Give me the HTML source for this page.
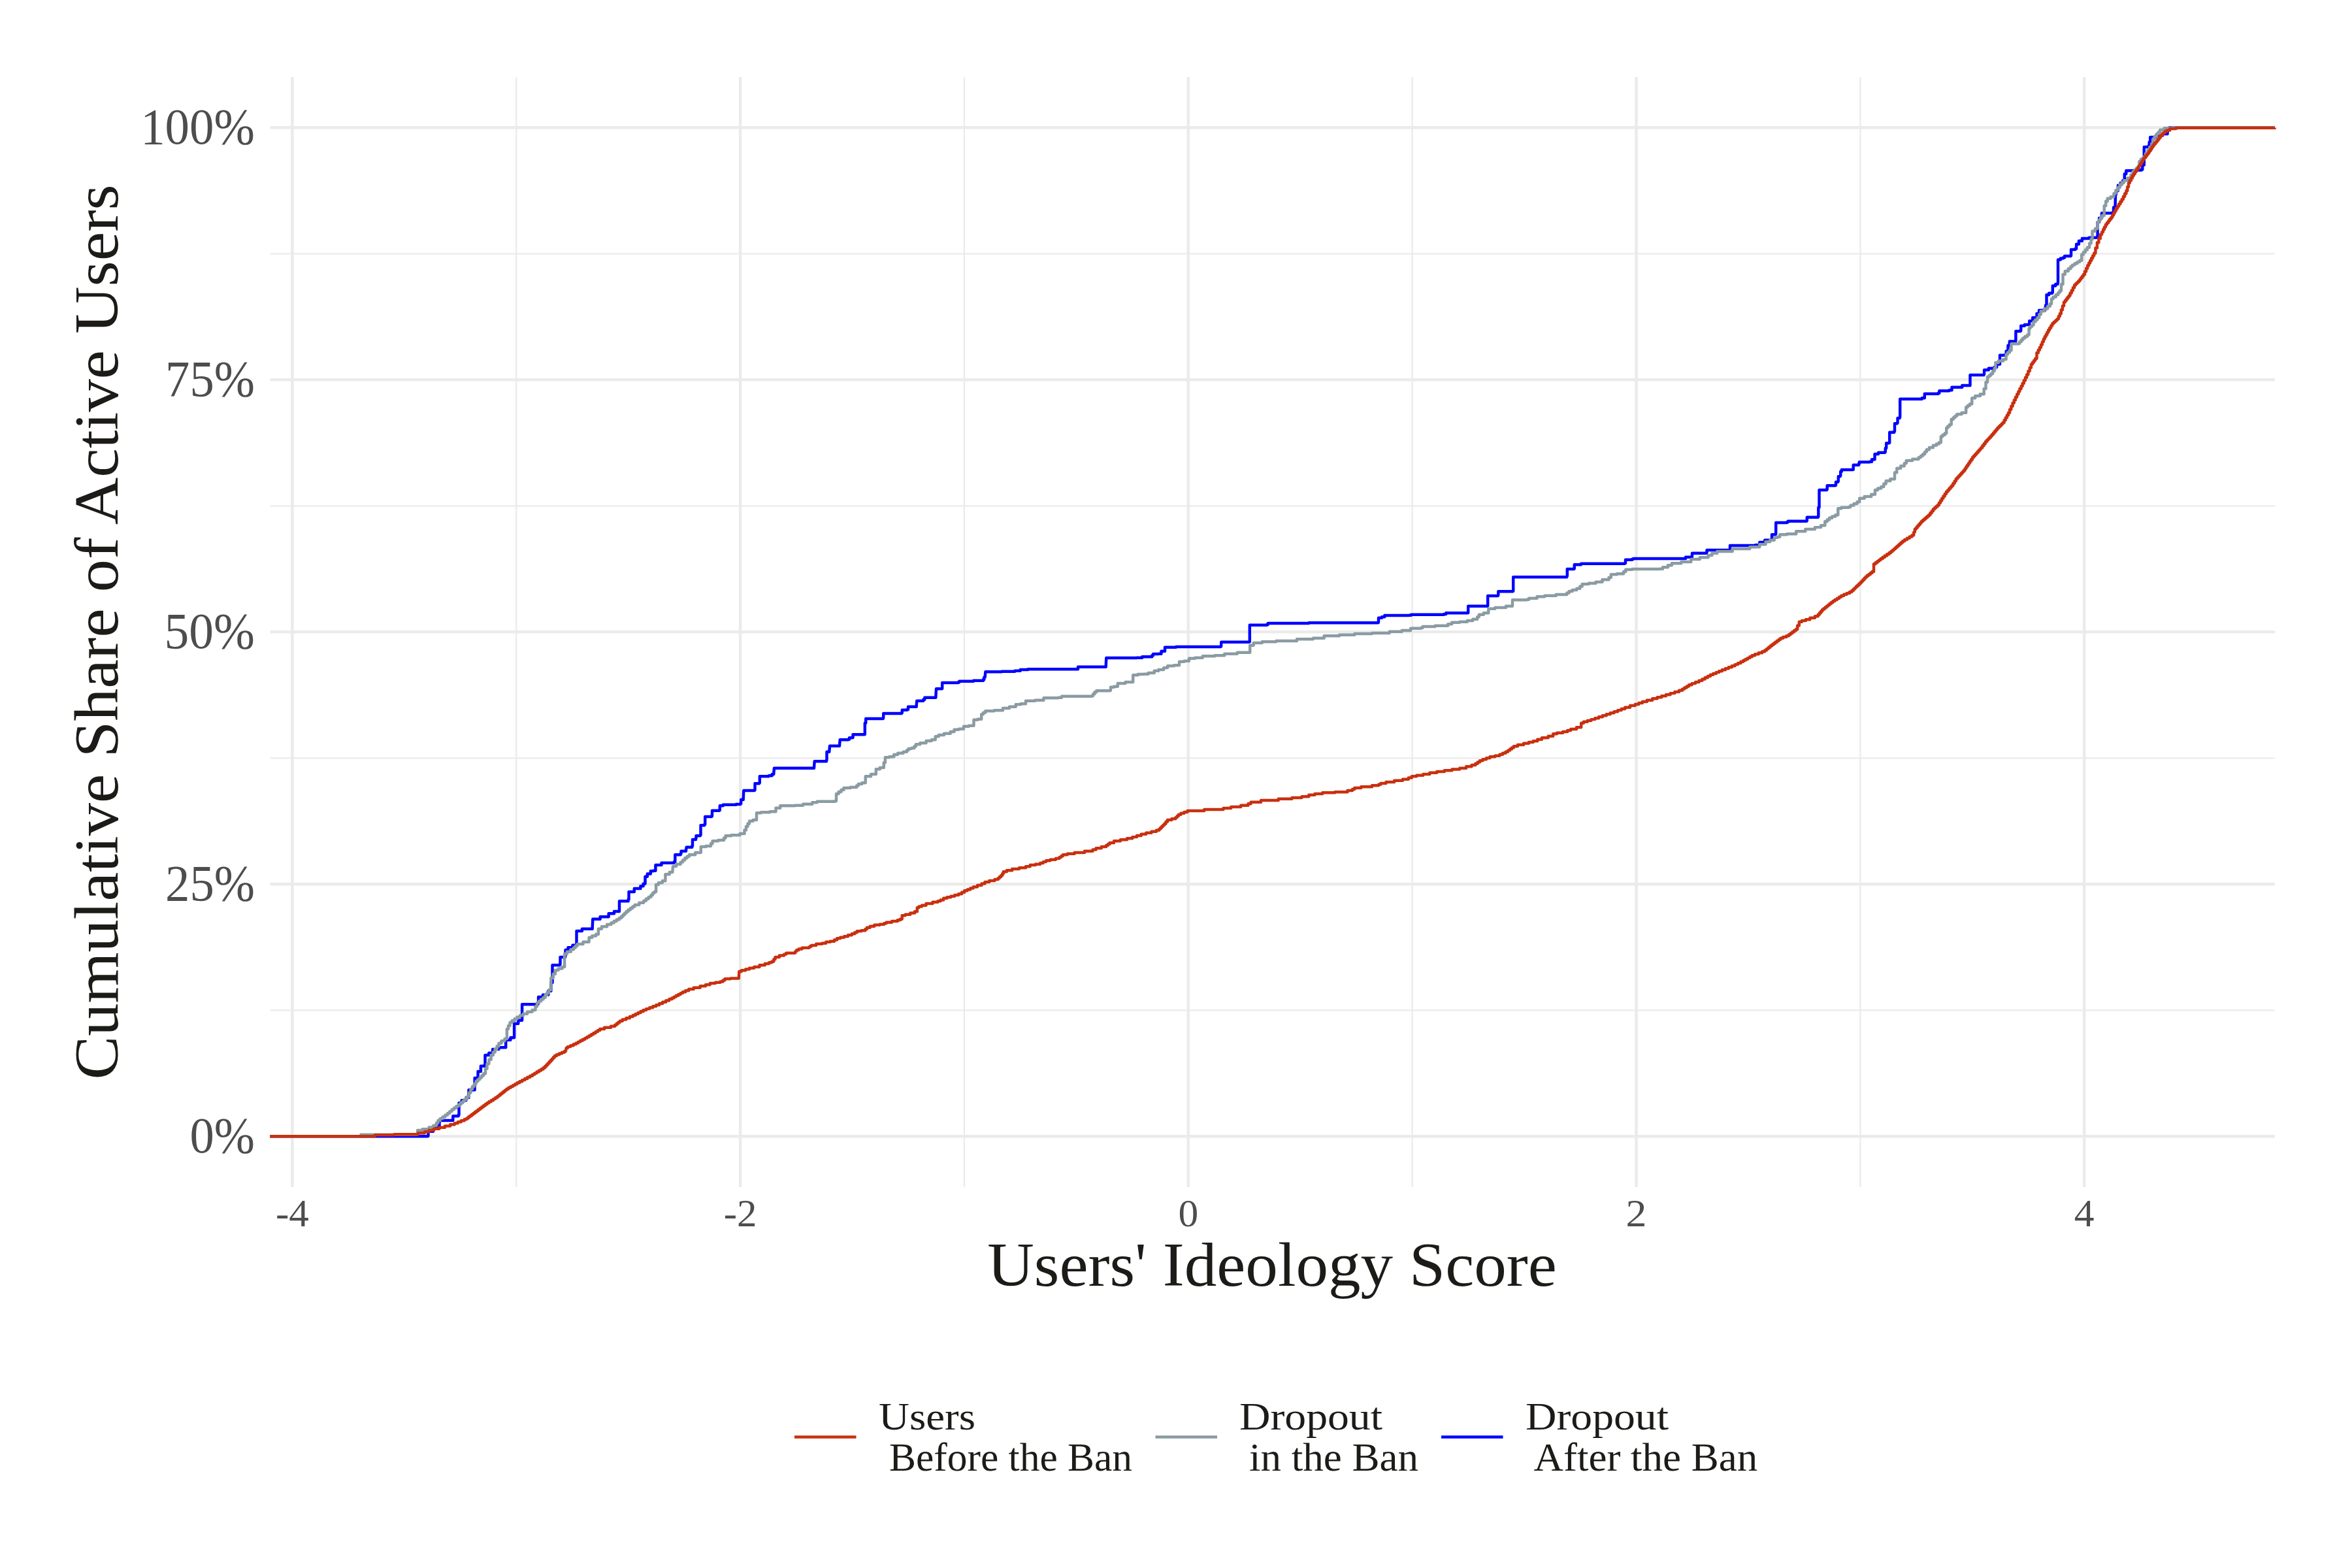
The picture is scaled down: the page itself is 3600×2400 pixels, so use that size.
<!DOCTYPE html>
<html><head><meta charset="utf-8"><title>ECDF of Users' Ideology Score</title>
<style>html,body{margin:0;padding:0;background:#fff;}svg{display:block;}text{font-family:"Liberation Serif",serif;}</style></head><body>
<svg width="3600" height="2400" viewBox="0 0 3600 2400">
<rect width="3600" height="2400" fill="#FFFFFF"/>
<g><line x1="413.5" x2="3482.0" y1="1546.30" y2="1546.30" stroke="#EBEBEB" stroke-width="2.25"/>
<line x1="413.5" x2="3482.0" y1="1160.30" y2="1160.30" stroke="#EBEBEB" stroke-width="2.25"/>
<line x1="413.5" x2="3482.0" y1="774.30" y2="774.30" stroke="#EBEBEB" stroke-width="2.25"/>
<line x1="413.5" x2="3482.0" y1="388.30" y2="388.30" stroke="#EBEBEB" stroke-width="2.25"/>
<line y1="118.0" y2="1817.0" x1="790.25" x2="790.25" stroke="#EBEBEB" stroke-width="2.25"/>
<line y1="118.0" y2="1817.0" x1="1475.95" x2="1475.95" stroke="#EBEBEB" stroke-width="2.25"/>
<line y1="118.0" y2="1817.0" x1="2161.65" x2="2161.65" stroke="#EBEBEB" stroke-width="2.25"/>
<line y1="118.0" y2="1817.0" x1="2847.35" x2="2847.35" stroke="#EBEBEB" stroke-width="2.25"/>
<line x1="413.5" x2="3482.0" y1="1739.30" y2="1739.30" stroke="#EBEBEB" stroke-width="4.45"/>
<line x1="413.5" x2="3482.0" y1="1353.30" y2="1353.30" stroke="#EBEBEB" stroke-width="4.45"/>
<line x1="413.5" x2="3482.0" y1="967.30" y2="967.30" stroke="#EBEBEB" stroke-width="4.45"/>
<line x1="413.5" x2="3482.0" y1="581.30" y2="581.30" stroke="#EBEBEB" stroke-width="4.45"/>
<line x1="413.5" x2="3482.0" y1="195.30" y2="195.30" stroke="#EBEBEB" stroke-width="4.45"/>
<line y1="118.0" y2="1817.0" x1="447.40" x2="447.40" stroke="#EBEBEB" stroke-width="4.45"/>
<line y1="118.0" y2="1817.0" x1="1133.10" x2="1133.10" stroke="#EBEBEB" stroke-width="4.45"/>
<line y1="118.0" y2="1817.0" x1="1818.80" x2="1818.80" stroke="#EBEBEB" stroke-width="4.45"/>
<line y1="118.0" y2="1817.0" x1="2504.50" x2="2504.50" stroke="#EBEBEB" stroke-width="4.45"/>
<line y1="118.0" y2="1817.0" x1="3190.20" x2="3190.20" stroke="#EBEBEB" stroke-width="4.45"/></g>
<path d="M413.3,1739.3 L555.0,1739.3 L555.0,1739.3 L555.7,1739.3 L638.3,1739.3 L638.3,1739.3 L655.0,1739.3 L655.0,1738.7 L655.5,1738.7 L655.5,1731.7 L656.0,1731.7 L663.0,1731.7 L663.0,1725.0 L670.0,1725.0 L672.5,1725.0 L672.5,1715.0 L675.0,1715.0 L693.3,1715.0 L693.3,1712.7 L693.3,1708.3 L701.7,1708.3 L701.7,1706.7 L702.5,1706.7 L702.5,1688.3 L703.3,1688.3 L706.6,1688.3 L706.6,1684.2 L713.4,1684.2 L713.4,1680.0 L716.7,1680.0 L717.5,1680.0 L717.5,1668.3 L718.3,1668.3 L725.0,1668.3 L725.0,1668.3 L726.6,1668.3 L726.6,1650.0 L728.3,1650.0 L731.6,1650.0 L731.6,1640.0 L735.0,1640.0 L735.9,1640.0 L735.9,1631.7 L736.7,1631.7 L741.7,1631.7 L741.7,1630.0 L742.5,1630.0 L742.5,1615.0 L743.3,1615.0 L748.3,1615.0 L748.3,1611.7 L753.3,1611.7 L754.1,1611.7 L754.1,1606.0 L755.0,1606.0 L763.4,1606.0 L763.4,1603.3 L771.7,1603.3 L774.2,1603.3 L774.2,1591.7 L776.7,1591.7 L781.4,1591.7 L781.4,1588.3 L786.0,1588.3 L787.1,1588.3 L787.1,1566.7 L788.3,1566.7 L793.3,1566.7 L793.3,1561.7 L798.3,1561.7 L799.1,1561.7 L799.1,1537.3 L800.0,1537.3 L823.3,1537.3 L823.3,1536.0 L824.1,1536.0 L824.1,1526.0 L825.0,1526.0 L830.9,1526.0 L830.9,1522.7 L836.7,1522.7 L839.2,1522.7 L839.2,1516.7 L841.7,1516.7 L843.4,1516.7 L843.4,1504.0 L845.0,1504.0 L845.5,1504.0 L845.5,1477.3 L846.0,1477.3 L856.7,1477.3 L856.7,1476.0 L857.5,1476.0 L857.5,1465.0 L858.3,1465.0 L865.0,1465.0 L865.0,1463.3 L865.5,1463.3 L865.5,1454.0 L866.0,1454.0 L869.5,1454.0 L869.5,1450.3 L876.5,1450.3 L876.5,1446.7 L880.0,1446.7 L882.5,1446.7 L882.5,1425.0 L885.0,1425.0 L890.9,1425.0 L890.9,1421.7 L896.7,1421.7 L906.7,1421.7 L906.7,1420.0 L907.3,1406.7 L918.6,1406.7 L918.6,1403.3 L930.0,1403.3 L931.6,1403.3 L931.6,1398.3 L933.3,1398.3 L940.0,1398.3 L940.0,1395.0 L946.7,1395.0 L948.0,1395.0 L948.0,1379.3 L949.3,1379.3 L961.7,1379.3 L961.7,1376.7 L962.5,1376.7 L962.5,1365.0 L963.3,1365.0 L970.8,1365.0 L970.8,1360.0 L978.3,1360.0 L980.4,1360.0 L980.4,1356.3 L984.6,1356.3 L984.6,1352.7 L986.7,1352.7 L987.5,1352.7 L987.5,1341.7 L988.3,1341.7 L990.8,1341.7 L990.8,1337.5 L995.8,1337.5 L995.8,1333.3 L998.3,1333.3 L1000.0,1333.3 L1000.0,1332.7 L1003.4,1332.7 L1003.4,1324.0 L1006.7,1324.0 L1012.5,1324.0 L1012.5,1320.7 L1018.3,1320.7 L1031.7,1320.7 L1031.7,1319.3 L1033.3,1319.3 L1033.3,1308.3 L1035.0,1308.3 L1041.7,1308.3 L1041.7,1306.7 L1042.5,1306.7 L1042.5,1302.7 L1043.3,1302.7 L1050.0,1302.7 L1050.0,1301.7 L1050.7,1296.7 L1059.3,1296.7 L1059.3,1295.0 L1060.0,1295.0 L1060.0,1285.0 L1060.7,1285.0 L1065.0,1285.0 L1065.0,1283.3 L1065.5,1283.3 L1065.5,1279.3 L1066.0,1279.3 L1071.7,1279.3 L1071.7,1278.3 L1072.5,1278.3 L1072.5,1263.3 L1073.3,1263.3 L1078.3,1263.3 L1078.3,1261.7 L1079.2,1261.7 L1079.2,1250.0 L1080.0,1250.0 L1089.3,1250.0 L1089.3,1249.0 L1090.0,1249.0 L1090.0,1240.7 L1090.7,1240.7 L1101.0,1240.7 L1101.0,1240.0 L1101.8,1240.0 L1101.8,1233.3 L1102.7,1233.3 L1106.7,1233.3 L1106.7,1231.7 L1126.7,1231.7 L1126.7,1231.0 L1133.3,1231.0 L1133.3,1230.0 L1134.2,1230.0 L1134.2,1224.0 L1135.0,1224.0 L1137.7,1224.0 L1137.7,1223.3 L1138.3,1210.0 L1155.0,1210.0 L1155.0,1209.3 L1155.5,1209.3 L1155.5,1199.3 L1156.0,1199.3 L1162.3,1199.3 L1162.3,1198.3 L1162.8,1198.3 L1162.8,1188.3 L1163.3,1188.3 L1176.7,1188.3 L1176.7,1187.3 L1181.7,1187.3 L1181.7,1185.0 L1184.3,1185.0 L1184.3,1183.3 L1185.0,1175.7 L1246.0,1175.7 L1246.0,1175.3 L1246.7,1165.3 L1265.0,1165.3 L1265.0,1163.3 L1265.5,1163.3 L1265.5,1150.7 L1266.0,1150.7 L1269.3,1150.7 L1269.3,1150.0 L1270.0,1141.7 L1285.0,1141.7 L1285.0,1140.7 L1285.7,1132.3 L1298.3,1132.3 L1298.3,1131.7 L1300.0,1131.7 L1300.0,1129.3 L1305.0,1129.3 L1305.0,1129.0 L1305.5,1129.0 L1305.5,1124.3 L1306.0,1124.3 L1323.3,1124.3 L1323.3,1124.0 L1323.8,1124.0 L1323.8,1106.7 L1324.3,1106.7 L1325.2,1106.7 L1325.2,1100.0 L1326.0,1100.0 L1351.7,1100.0 L1351.7,1099.0 L1352.2,1099.0 L1352.2,1092.0 L1352.7,1092.0 L1380.0,1092.0 L1380.0,1091.0 L1380.8,1091.0 L1380.8,1086.7 L1381.7,1086.7 L1388.3,1086.7 L1388.3,1086.0 L1390.0,1086.0 L1390.0,1081.7 L1391.7,1081.7 L1402.7,1081.7 L1402.7,1080.0 L1403.3,1072.7 L1413.3,1072.7 L1413.3,1070.7 L1415.3,1070.7 L1415.3,1067.7 L1417.3,1067.7 L1432.3,1067.7 L1432.3,1067.3 L1433.0,1054.3 L1441.7,1054.3 L1441.7,1054.0 L1442.2,1054.0 L1442.2,1045.0 L1442.7,1045.0 L1466.7,1045.0 L1466.7,1044.3 L1468.3,1044.3 L1468.3,1042.7 L1490.0,1042.7 L1490.0,1041.7 L1505.0,1041.7 L1505.0,1040.0 L1506.3,1040.0 L1506.3,1036.7 L1507.7,1036.7 L1508.3,1028.3 L1533.3,1028.3 L1533.3,1027.7 L1553.3,1027.7 L1553.3,1026.7 L1561.7,1026.7 L1561.7,1025.0 L1573.3,1025.0 L1573.3,1024.3 L1645.0,1024.3 L1645.0,1024.3 L1650.0,1024.3 L1650.0,1020.7 L1655.0,1020.7 L1692.7,1020.7 L1692.7,1020.3 L1693.3,1007.0 L1740.0,1007.0 L1740.0,1006.7 L1748.3,1006.7 L1748.3,1005.3 L1750.0,1005.3 L1750.0,1005.3 L1763.3,1005.3 L1763.3,1003.3 L1765.0,1003.3 L1765.0,1001.0 L1773.3,1001.0 L1773.3,1000.7 L1777.5,1000.7 L1777.5,996.7 L1781.7,996.7 L1783.0,996.7 L1783.0,990.7 L1784.3,990.7 L1800.0,990.7 L1800.0,990.0 L1868.3,990.0 L1868.3,989.3 L1869.2,989.3 L1869.2,982.7 L1870.0,982.7 L1912.3,982.7 L1912.3,982.3 L1912.8,982.3 L1912.8,956.7 L1913.3,956.7 L1939.3,956.7 L1939.3,956.0 L1940.7,956.0 L1940.7,954.0 L2003.3,954.0 L2003.3,953.3 L2109.3,953.3 L2109.3,952.7 L2110.0,952.7 L2110.0,945.7 L2110.7,945.7 L2115.0,945.7 L2115.0,944.3 L2119.3,944.3 L2119.3,942.0 L2156.7,942.0 L2156.7,941.7 L2160.0,941.7 L2160.0,940.7 L2210.0,940.7 L2210.0,940.0 L2213.3,940.0 L2213.3,938.3 L2246.7,938.3 L2246.7,938.0 L2247.2,938.0 L2247.2,927.7 L2247.7,927.7 L2276.7,927.7 L2276.7,927.3 L2277.2,927.3 L2277.2,912.0 L2277.7,912.0 L2292.7,912.0 L2292.7,911.3 L2293.3,911.3 L2293.3,905.3 L2294.0,905.3 L2315.7,905.3 L2315.7,904.7 L2316.2,904.7 L2316.2,883.3 L2316.7,883.3 L2398.3,883.3 L2398.3,881.7 L2398.8,881.7 L2398.8,871.0 L2399.3,871.0 L2409.3,871.0 L2409.3,870.3 L2409.8,870.3 L2409.8,864.3 L2410.3,864.3 L2420.0,864.3 L2420.0,862.7 L2486.7,862.7 L2486.7,862.0 L2488.0,862.0 L2488.0,856.7 L2489.3,856.7 L2498.3,856.7 L2498.3,855.7 L2500.0,855.7 L2500.0,855.0 L2578.3,855.0 L2578.3,855.0 L2580.0,855.0 L2580.0,852.7 L2589.3,852.7 L2589.3,852.0 L2590.0,852.0 L2590.0,846.7 L2590.7,846.7 L2611.7,846.7 L2611.7,846.0 L2612.5,846.0 L2612.5,842.0 L2613.3,842.0 L2647.3,842.0 L2647.3,841.3 L2648.0,841.3 L2648.0,835.0 L2648.7,835.0 L2686.7,835.0 L2686.7,834.3 L2693.3,834.3 L2693.3,830.0 L2700.0,830.0 L2701.3,830.0 L2701.3,826.7 L2702.7,826.7 L2710.7,826.7 L2710.7,826.0 L2712.0,826.0 L2712.0,818.3 L2713.3,818.3 L2717.7,818.3 L2717.7,817.3 L2718.2,817.3 L2718.2,800.0 L2718.7,800.0 L2735.0,800.0 L2735.0,799.3 L2736.7,799.3 L2736.7,797.7 L2765.0,797.7 L2765.0,797.3 L2765.8,797.3 L2765.8,791.7 L2766.7,791.7 L2782.7,791.7 L2782.7,791.0 L2783.3,791.0 L2783.3,776.7 L2784.0,776.7 L2784.5,776.7 L2784.5,750.0 L2785.0,750.0 L2796.0,750.0 L2796.0,749.0 L2796.7,749.0 L2796.7,743.3 L2797.3,743.3 L2809.3,743.3 L2809.3,742.7 L2810.0,742.7 L2810.0,737.7 L2810.7,737.7 L2813.3,737.7 L2813.3,736.7 L2813.8,736.7 L2813.8,729.3 L2814.3,729.3 L2816.7,729.3 L2816.7,728.3 L2817.2,728.3 L2817.2,721.7 L2817.7,721.7 L2818.8,721.7 L2818.8,719.0 L2820.0,719.0 L2836.0,719.0 L2836.0,718.7 L2836.7,718.7 L2836.7,711.7 L2837.3,711.7 L2845.0,711.7 L2845.0,710.0 L2845.8,710.0 L2845.8,707.3 L2846.7,707.3 L2861.7,707.3 L2861.7,706.7 L2865.0,706.7 L2865.0,703.3 L2868.3,703.3 L2869.5,703.3 L2869.5,695.0 L2870.7,695.0 L2875.0,695.0 L2875.0,692.7 L2885.0,692.7 L2885.0,691.7 L2885.8,691.7 L2885.8,686.0 L2886.7,686.0 L2887.2,686.0 L2887.2,678.3 L2887.7,678.3 L2891.7,678.3 L2891.7,677.7 L2892.2,677.7 L2892.2,661.7 L2892.7,661.7 L2899.3,661.7 L2899.3,660.0 L2900.0,660.0 L2900.0,648.3 L2900.7,648.3 L2904.0,648.3 L2904.0,647.3 L2904.5,647.3 L2904.5,640.0 L2905.0,640.0 L2907.7,640.0 L2907.7,638.3 L2908.2,638.3 L2908.2,610.7 L2908.7,610.7 L2941.7,610.7 L2941.7,609.3 L2945.8,609.3 L2945.8,602.7 L2950.0,602.7 L2966.7,602.7 L2966.7,601.7 L2968.3,601.7 L2968.3,598.3 L2970.0,598.3 L2983.3,598.3 L2983.3,597.3 L2987.5,597.3 L2987.5,592.7 L2991.7,592.7 L3003.3,592.7 L3003.3,590.0 L3015.0,590.0 L3015.5,590.0 L3015.5,574.0 L3016.0,574.0 L3036.7,574.0 L3036.7,572.7 L3037.1,572.7 L3037.1,566.2 L3037.5,566.2 L3043.8,566.2 L3043.8,563.8 L3052.5,563.8 L3052.5,562.0 L3056.2,562.0 L3056.2,557.5 L3060.0,557.5 L3061.0,557.5 L3061.0,543.8 L3062.0,543.8 L3068.8,543.8 L3068.8,543.0 L3070.7,543.0 L3070.7,537.5 L3072.5,537.5 L3073.5,537.5 L3073.5,528.8 L3074.5,528.8 L3075.8,528.8 L3075.8,522.5 L3077.0,522.5 L3085.0,522.5 L3085.0,522.0 L3085.4,522.0 L3085.4,507.0 L3085.8,507.0 L3092.5,507.0 L3092.5,506.2 L3093.2,506.2 L3093.2,498.8 L3093.8,498.8 L3098.8,498.8 L3098.8,497.0 L3105.0,497.0 L3105.0,496.2 L3106.2,496.2 L3106.2,491.2 L3107.5,491.2 L3111.2,491.2 L3111.2,486.2 L3115.0,486.2 L3117.5,486.2 L3117.5,480.0 L3120.0,480.0 L3121.0,480.0 L3121.0,475.0 L3122.0,475.0 L3130.0,475.0 L3130.0,472.5 L3131.0,472.5 L3131.0,467.5 L3132.0,467.5 L3132.5,467.5 L3132.5,451.2 L3133.0,451.2 L3136.2,451.2 L3136.2,448.8 L3141.2,448.8 L3141.2,447.5 L3141.8,447.5 L3141.8,437.5 L3142.5,437.5 L3146.2,437.5 L3146.2,435.0 L3149.5,435.0 L3149.5,433.0 L3150.0,433.0 L3150.0,397.5 L3150.5,397.5 L3153.8,397.5 L3153.8,395.5 L3157.5,395.5 L3157.5,394.5 L3160.0,394.5 L3160.0,392.0 L3169.5,392.0 L3169.5,391.5 L3170.0,391.5 L3170.0,382.0 L3170.5,382.0 L3176.2,382.0 L3176.2,380.8 L3178.1,380.8 L3178.1,373.8 L3180.0,373.8 L3181.9,373.8 L3181.9,368.8 L3183.8,368.8 L3186.9,368.8 L3186.9,365.0 L3190.0,365.0 L3197.5,365.0 L3197.5,363.8 L3210.0,363.8 L3210.0,362.0 L3210.6,362.0 L3210.6,340.0 L3211.2,340.0 L3213.1,340.0 L3213.1,333.8 L3215.0,333.8 L3216.9,333.8 L3216.9,326.2 L3218.8,326.2 L3232.5,326.2 L3232.5,325.8 L3235.0,325.8 L3235.0,317.5 L3237.5,317.5 L3238.0,297.5 L3239.0,297.5 L3239.0,292.0 L3240.0,292.0 L3241.9,292.0 L3241.9,283.8 L3243.8,283.8 L3245.7,283.8 L3245.7,280.0 L3249.3,280.0 L3249.3,276.2 L3251.2,276.2 L3251.8,276.2 L3251.8,266.2 L3252.5,266.2 L3254.3,266.2 L3254.3,261.2 L3256.2,261.2 L3267.5,261.2 L3267.5,260.5 L3277.5,260.5 L3277.5,259.5 L3279.3,259.5 L3279.3,252.5 L3281.2,252.5 L3281.8,252.5 L3281.8,225.0 L3282.5,225.0 L3288.8,225.0 L3288.8,223.0 L3289.7,223.0 L3289.7,217.5 L3290.5,217.5 L3291.2,217.5 L3291.2,210.0 L3292.0,210.0 L3300.0,210.0 L3300.0,207.5 L3310.0,207.5 L3310.0,205.0 L3317.5,205.0 L3317.5,204.2 L3318.0,197.5 L3320.0,197.5 L3320.0,195.5 L3482.0,195.5 L3482.0,195.5" fill="none" stroke="#0000FF" stroke-width="4.45" stroke-linejoin="round" stroke-linecap="butt"/>
<path d="M413.3,1739.3 L551.7,1739.3 L551.7,1739.3 L552.3,1736.7 L638.3,1736.7 L638.3,1736.0 L639.1,1736.0 L639.1,1730.0 L640.0,1730.0 L646.6,1730.0 L646.6,1728.3 L653.3,1728.3 L656.6,1728.3 L656.6,1725.5 L663.4,1725.5 L663.4,1722.7 L666.7,1722.7 L668.0,1722.7 L668.0,1718.8 L670.5,1718.8 L670.5,1715.0 L671.7,1715.0 L673.6,1715.0 L673.6,1712.2 L677.5,1712.2 L677.5,1709.5 L681.4,1709.5 L681.4,1706.7 L683.3,1706.7 L685.0,1706.7 L685.0,1703.9 L688.3,1703.9 L688.3,1701.1 L691.6,1701.1 L691.6,1698.3 L693.3,1698.3 L695.0,1698.3 L695.0,1695.8 L698.3,1695.8 L698.3,1693.3 L701.7,1693.3 L701.7,1690.8 L705.0,1690.8 L705.0,1688.3 L706.7,1688.3 L708.0,1688.3 L708.0,1685.8 L710.5,1685.8 L710.5,1683.3 L713.0,1683.3 L713.0,1680.8 L715.5,1680.8 L715.5,1678.3 L716.7,1678.3 L718.0,1678.3 L718.0,1672.5 L720.5,1672.5 L720.5,1666.7 L721.7,1666.7 L723.1,1666.7 L723.1,1662.8 L725.9,1662.8 L725.9,1658.9 L728.6,1658.9 L728.6,1655.0 L730.0,1655.0 L731.5,1655.0 L731.5,1652.1 L734.4,1652.1 L734.4,1649.2 L737.3,1649.2 L737.3,1646.2 L740.2,1646.2 L740.2,1643.3 L741.7,1643.3 L743.0,1643.3 L743.0,1635.8 L745.5,1635.8 L745.5,1628.3 L746.7,1628.3 L748.4,1628.3 L748.4,1621.7 L751.6,1621.7 L751.6,1615.0 L753.3,1615.0 L754.8,1615.0 L754.8,1610.4 L757.7,1610.4 L757.7,1605.8 L760.6,1605.8 L760.6,1601.3 L763.5,1601.3 L763.5,1596.7 L765.0,1596.7 L767.5,1596.7 L767.5,1593.3 L772.5,1593.3 L772.5,1590.0 L775.0,1590.0 L775.9,1590.0 L775.9,1575.0 L776.7,1575.0 L778.0,1575.0 L778.0,1570.0 L780.5,1570.0 L780.5,1565.0 L781.7,1565.0 L783.6,1565.0 L783.6,1562.2 L787.5,1562.2 L787.5,1559.5 L791.4,1559.5 L791.4,1556.7 L793.3,1556.7 L795.8,1556.7 L795.8,1554.2 L800.8,1554.2 L800.8,1551.7 L803.3,1551.7 L807.0,1551.7 L807.0,1548.8 L814.5,1548.8 L814.5,1546.0 L818.3,1546.0 L819.5,1546.0 L819.5,1540.5 L822.0,1540.5 L822.0,1535.0 L823.3,1535.0 L825.0,1535.0 L825.0,1532.2 L828.3,1532.2 L828.3,1529.5 L831.6,1529.5 L831.6,1526.7 L833.3,1526.7 L834.7,1526.7 L834.7,1522.8 L837.5,1522.8 L837.5,1518.9 L840.3,1518.9 L840.3,1515.0 L841.7,1515.0 L843.4,1515.0 L843.4,1496.7 L845.0,1496.7 L846.7,1496.7 L846.7,1490.8 L850.0,1490.8 L850.0,1485.0 L851.7,1485.0 L854.6,1485.0 L854.6,1482.5 L860.4,1482.5 L860.4,1480.0 L863.3,1480.0 L864.1,1480.0 L864.1,1460.0 L865.0,1460.0 L867.9,1460.0 L867.9,1456.7 L873.8,1456.7 L873.8,1453.3 L876.7,1453.3 L878.1,1453.3 L878.1,1450.5 L880.9,1450.5 L880.9,1447.8 L883.6,1447.8 L883.6,1445.0 L885.0,1445.0 L892.5,1445.0 L892.5,1441.7 L900.0,1441.7 L901.6,1441.7 L901.6,1435.0 L903.3,1435.0 L906.2,1435.0 L906.2,1432.5 L912.1,1432.5 L912.1,1430.0 L915.0,1430.0 L915.9,1430.0 L915.9,1421.7 L916.7,1421.7 L920.9,1421.7 L920.9,1418.3 L929.1,1418.3 L929.1,1415.0 L933.3,1415.0 L935.4,1415.0 L935.4,1412.5 L939.6,1412.5 L939.6,1410.0 L943.7,1410.0 L943.7,1407.5 L947.9,1407.5 L947.9,1405.0 L950.0,1405.0 L951.2,1405.0 L951.2,1402.5 L953.8,1402.5 L953.8,1400.0 L956.2,1400.0 L956.2,1397.5 L958.8,1397.5 L958.8,1395.0 L960.0,1395.0 L961.7,1395.0 L961.7,1392.5 L965.0,1392.5 L965.0,1390.0 L968.3,1390.0 L968.3,1387.5 L971.6,1387.5 L971.6,1385.0 L973.3,1385.0 L978.3,1385.0 L978.3,1381.7 L983.3,1381.7 L985.2,1381.7 L985.2,1378.8 L988.9,1378.8 L988.9,1375.8 L992.7,1375.8 L992.7,1372.9 L996.4,1372.9 L996.4,1370.0 L998.3,1370.0 L999.1,1370.0 L999.1,1366.7 L1000.0,1366.7 L1001.6,1366.7 L1001.6,1365.0 L1003.3,1365.0 L1004.1,1365.0 L1004.1,1354.0 L1005.0,1354.0 L1007.9,1354.0 L1007.9,1351.2 L1013.8,1351.2 L1013.8,1348.3 L1016.7,1348.3 L1018.4,1348.3 L1018.4,1338.3 L1020.0,1338.3 L1024.7,1338.3 L1024.7,1335.0 L1029.3,1335.0 L1030.0,1326.0 L1035.0,1326.0 L1035.0,1322.7 L1040.0,1322.7 L1041.7,1322.7 L1041.7,1319.6 L1045.0,1319.6 L1045.0,1316.4 L1048.3,1316.4 L1048.3,1313.3 L1050.0,1313.3 L1051.7,1313.3 L1051.7,1310.8 L1055.0,1310.8 L1055.0,1308.3 L1056.7,1308.3 L1064.2,1308.3 L1064.2,1305.0 L1071.7,1305.0 L1072.8,1305.0 L1072.8,1296.0 L1074.0,1296.0 L1080.3,1296.0 L1080.3,1295.0 L1086.7,1295.0 L1088.0,1295.0 L1088.0,1291.2 L1090.5,1291.2 L1090.5,1287.3 L1091.7,1287.3 L1099.2,1287.3 L1099.2,1286.0 L1106.7,1286.0 L1108.0,1286.0 L1108.0,1282.7 L1110.5,1282.7 L1110.5,1279.3 L1111.7,1279.3 L1119.2,1279.3 L1119.2,1278.3 L1126.7,1278.3 L1132.5,1278.3 L1132.5,1276.0 L1138.3,1276.0 L1139.5,1276.0 L1139.5,1270.5 L1142.0,1270.5 L1142.0,1265.0 L1143.3,1265.0 L1144.5,1265.0 L1144.5,1260.8 L1147.0,1260.8 L1147.0,1256.7 L1148.3,1256.7 L1152.5,1256.7 L1152.5,1255.0 L1156.7,1255.0 L1158.0,1255.0 L1158.0,1244.3 L1159.3,1244.3 L1164.7,1244.3 L1164.7,1243.3 L1170.0,1243.3 L1178.3,1243.3 L1178.3,1242.3 L1186.7,1242.3 L1187.5,1242.3 L1187.5,1236.7 L1188.3,1236.7 L1194.2,1236.7 L1194.2,1233.3 L1200.0,1233.3 L1216.7,1233.3 L1216.7,1232.7 L1229.2,1232.7 L1229.2,1230.7 L1241.7,1230.7 L1243.3,1230.7 L1243.3,1228.3 L1245.0,1228.3 L1250.8,1228.3 L1250.8,1226.7 L1256.7,1226.7 L1278.3,1226.7 L1278.3,1226.0 L1280.0,1226.0 L1280.0,1215.0 L1281.7,1215.0 L1283.6,1215.0 L1283.6,1212.0 L1287.5,1212.0 L1287.5,1209.0 L1291.4,1209.0 L1291.4,1206.0 L1293.3,1206.0 L1301.7,1206.0 L1301.7,1205.0 L1310.0,1205.0 L1311.2,1205.0 L1311.2,1202.5 L1313.8,1202.5 L1313.8,1200.0 L1315.0,1200.0 L1319.2,1200.0 L1319.2,1198.3 L1323.3,1198.3 L1324.7,1198.3 L1324.7,1188.3 L1326.0,1188.3 L1333.0,1188.3 L1333.0,1185.0 L1340.0,1185.0 L1340.8,1185.0 L1340.8,1177.3 L1341.7,1177.3 L1346.7,1177.3 L1346.7,1175.0 L1351.7,1175.0 L1352.8,1175.0 L1352.8,1167.2 L1354.9,1167.2 L1354.9,1159.3 L1356.0,1159.3 L1361.3,1159.3 L1361.3,1158.3 L1366.7,1158.3 L1368.3,1158.3 L1368.3,1155.0 L1370.0,1155.0 L1374.2,1155.0 L1374.2,1152.8 L1382.5,1152.8 L1382.5,1150.7 L1386.7,1150.7 L1388.0,1150.7 L1388.0,1148.3 L1390.5,1148.3 L1390.5,1146.0 L1391.7,1146.0 L1395.0,1146.0 L1395.0,1145.0 L1398.3,1145.0 L1399.5,1145.0 L1399.5,1142.2 L1402.0,1142.2 L1402.0,1139.3 L1403.3,1139.3 L1408.3,1139.3 L1408.3,1137.3 L1413.3,1137.3 L1417.5,1137.3 L1417.5,1134.0 L1421.7,1134.0 L1425.8,1134.0 L1425.8,1132.3 L1430.0,1132.3 L1431.7,1132.3 L1431.7,1127.3 L1433.3,1127.3 L1436.7,1127.3 L1436.7,1125.0 L1440.0,1125.0 L1445.0,1125.0 L1445.0,1122.7 L1450.0,1122.7 L1454.7,1122.7 L1454.7,1120.0 L1459.3,1120.0 L1460.5,1120.0 L1460.5,1116.7 L1461.7,1116.7 L1467.5,1116.7 L1467.5,1115.7 L1473.3,1115.7 L1475.0,1115.7 L1475.0,1111.7 L1476.7,1111.7 L1483.0,1111.7 L1483.0,1110.7 L1489.3,1110.7 L1490.5,1110.7 L1490.5,1101.7 L1491.7,1101.7 L1496.3,1101.7 L1496.3,1100.7 L1501.0,1100.7 L1502.2,1100.7 L1502.2,1093.3 L1503.3,1093.3 L1505.0,1093.3 L1505.0,1090.8 L1508.3,1090.8 L1508.3,1088.3 L1510.0,1088.3 L1521.7,1088.3 L1521.7,1087.3 L1533.3,1087.3 L1535.0,1087.3 L1535.0,1084.0 L1536.7,1084.0 L1545.0,1084.0 L1545.0,1081.7 L1553.3,1081.7 L1554.7,1081.7 L1554.7,1078.3 L1556.0,1078.3 L1562.2,1078.3 L1562.2,1077.3 L1568.3,1077.3 L1570.0,1077.3 L1570.0,1072.7 L1571.7,1072.7 L1584.2,1072.7 L1584.2,1071.7 L1596.7,1071.7 L1597.5,1071.7 L1597.5,1068.3 L1598.3,1068.3 L1620.0,1068.3 L1620.0,1067.7 L1625.0,1067.7 L1625.0,1065.7 L1630.0,1065.7 L1671.7,1065.7 L1671.7,1065.0 L1673.0,1065.0 L1673.0,1062.2 L1675.5,1062.2 L1675.5,1059.3 L1676.7,1059.3 L1678.3,1059.3 L1678.3,1057.3 L1680.0,1057.3 L1699.3,1057.3 L1699.3,1056.7 L1700.0,1056.7 L1700.0,1051.7 L1700.7,1051.7 L1705.3,1051.7 L1705.3,1050.7 L1710.0,1050.7 L1710.8,1050.7 L1710.8,1046.0 L1711.7,1046.0 L1722.5,1046.0 L1722.5,1044.0 L1733.3,1044.0 L1734.2,1044.0 L1734.2,1033.3 L1735.0,1033.3 L1741.7,1033.3 L1741.7,1032.0 L1748.3,1032.0 L1750.0,1032.0 L1750.0,1031.7 L1757.5,1031.7 L1757.5,1030.0 L1765.0,1030.0 L1766.7,1030.0 L1766.7,1026.7 L1768.3,1026.7 L1773.3,1026.7 L1773.3,1025.0 L1778.3,1025.0 L1781.2,1025.0 L1781.2,1022.1 L1787.1,1022.1 L1787.1,1019.3 L1790.0,1019.3 L1796.7,1019.3 L1796.7,1018.3 L1803.3,1018.3 L1805.0,1018.3 L1805.0,1012.7 L1806.7,1012.7 L1812.5,1012.7 L1812.5,1011.7 L1818.3,1011.7 L1820.0,1011.7 L1820.0,1007.7 L1821.7,1007.7 L1829.2,1007.7 L1829.2,1006.7 L1836.7,1006.7 L1840.8,1006.7 L1840.8,1004.3 L1845.0,1004.3 L1859.2,1004.3 L1859.2,1003.3 L1873.3,1003.3 L1874.2,1003.3 L1874.2,1000.7 L1875.0,1000.7 L1893.7,1000.7 L1893.7,998.7 L1912.3,998.7 L1913.2,998.7 L1913.2,987.7 L1914.0,987.7 L1918.7,987.7 L1918.7,984.0 L1923.3,984.0 L1931.7,984.0 L1931.7,982.3 L1940.0,982.3 L1953.3,982.3 L1953.3,981.0 L1966.7,981.0 L1985.0,981.0 L1985.0,978.3 L2003.3,978.3 L2010.0,978.3 L2010.0,976.7 L2016.7,976.7 L2026.7,976.7 L2026.7,973.3 L2036.7,973.3 L2050.0,973.3 L2050.0,971.7 L2063.3,971.7 L2073.3,971.7 L2073.3,970.0 L2083.3,970.0 L2100.0,970.0 L2100.0,969.0 L2116.7,969.0 L2126.7,969.0 L2126.7,966.7 L2136.7,966.7 L2145.8,966.7 L2145.8,965.0 L2155.0,965.0 L2159.2,965.0 L2159.2,961.7 L2163.3,961.7 L2175.0,961.7 L2175.0,961.0 L2177.5,961.0 L2177.5,959.0 L2180.0,959.0 L2196.7,959.0 L2196.7,957.7 L2213.3,957.7 L2216.2,957.7 L2216.2,955.2 L2222.1,955.2 L2222.1,952.7 L2225.0,952.7 L2234.2,952.7 L2234.2,951.7 L2243.3,951.7 L2245.8,951.7 L2245.8,950.0 L2248.3,950.0 L2254.2,950.0 L2254.2,947.7 L2260.0,947.7 L2261.2,947.7 L2261.2,944.2 L2263.8,944.2 L2263.8,940.7 L2265.0,940.7 L2270.8,940.7 L2270.8,938.3 L2276.7,938.3 L2278.3,938.3 L2278.3,931.7 L2280.0,931.7 L2288.3,931.7 L2288.3,930.0 L2296.7,930.0 L2305.0,930.0 L2305.0,927.7 L2313.3,927.7 L2315.0,927.7 L2315.0,918.3 L2316.7,918.3 L2336.7,918.3 L2336.7,917.7 L2340.0,917.7 L2340.0,915.7 L2343.3,915.7 L2352.5,915.7 L2352.5,913.3 L2361.7,913.3 L2364.2,913.3 L2364.2,911.7 L2366.7,911.7 L2381.7,911.7 L2381.7,910.0 L2396.7,910.0 L2398.3,910.0 L2398.3,907.5 L2401.7,907.5 L2401.7,905.0 L2403.3,905.0 L2406.7,905.0 L2406.7,902.9 L2413.3,902.9 L2413.3,900.7 L2416.7,900.7 L2418.3,900.7 L2418.3,897.4 L2421.7,897.4 L2421.7,894.0 L2423.3,894.0 L2431.7,894.0 L2431.7,892.7 L2440.0,892.7 L2442.5,892.7 L2442.5,890.7 L2445.0,890.7 L2452.5,890.7 L2452.5,887.3 L2460.0,887.3 L2462.5,887.3 L2462.5,884.0 L2465.0,884.0 L2465.8,884.0 L2465.8,879.3 L2466.7,879.3 L2475.0,879.3 L2475.0,878.3 L2483.3,878.3 L2485.0,878.3 L2485.0,875.0 L2488.3,875.0 L2488.3,871.7 L2490.0,871.7 L2498.3,871.7 L2498.3,871.0 L2500.0,871.0 L2500.0,871.0 L2540.0,871.0 L2540.0,870.7 L2545.0,870.7 L2545.0,868.3 L2550.0,868.3 L2552.9,868.3 L2552.9,865.3 L2558.8,865.3 L2558.8,862.3 L2561.7,862.3 L2573.3,862.3 L2573.3,860.0 L2585.0,860.0 L2588.3,860.0 L2588.3,856.0 L2591.7,856.0 L2601.7,856.0 L2601.7,853.3 L2611.7,853.3 L2614.6,853.3 L2614.6,850.0 L2620.4,850.0 L2620.4,846.7 L2623.3,846.7 L2628.3,846.7 L2628.3,844.0 L2633.3,844.0 L2651.7,844.0 L2651.7,840.0 L2670.0,840.0 L2678.3,840.0 L2678.3,837.3 L2686.7,837.3 L2693.3,837.3 L2693.3,833.3 L2700.0,833.3 L2702.5,833.3 L2702.5,829.3 L2705.0,829.3 L2709.2,829.3 L2709.2,826.7 L2713.3,826.7 L2715.8,826.7 L2715.8,822.7 L2718.3,822.7 L2720.8,822.7 L2720.8,821.7 L2723.3,821.7 L2724.2,821.7 L2724.2,818.3 L2725.0,818.3 L2735.0,818.3 L2735.0,817.3 L2745.0,817.3 L2749.2,817.3 L2749.2,813.3 L2753.3,813.3 L2763.3,813.3 L2763.3,810.0 L2773.3,810.0 L2777.9,810.0 L2777.9,807.1 L2787.1,807.1 L2787.1,804.3 L2791.7,804.3 L2793.3,804.3 L2793.3,798.3 L2795.0,798.3 L2796.7,798.3 L2796.7,795.5 L2800.0,795.5 L2800.0,792.7 L2801.7,792.7 L2804.2,792.7 L2804.2,790.5 L2809.2,790.5 L2809.2,788.3 L2811.7,788.3 L2813.3,788.3 L2813.3,778.3 L2815.0,778.3 L2818.3,778.3 L2818.3,776.7 L2821.7,776.7 L2830.0,776.7 L2830.0,776.0 L2832.5,776.0 L2832.5,773.4 L2837.5,773.4 L2837.5,770.9 L2842.5,770.9 L2842.5,768.3 L2845.0,768.3 L2846.2,768.3 L2846.2,762.7 L2847.3,762.7 L2853.7,762.7 L2853.7,760.0 L2860.0,760.0 L2864.2,760.0 L2864.2,756.7 L2868.3,756.7 L2870.0,756.7 L2870.0,750.0 L2871.7,750.0 L2874.2,750.0 L2874.2,747.5 L2879.2,747.5 L2879.2,745.0 L2881.7,745.0 L2883.3,745.0 L2883.3,740.5 L2886.7,740.5 L2886.7,736.0 L2888.3,736.0 L2893.3,736.0 L2893.3,733.3 L2898.3,733.3 L2900.0,733.3 L2900.0,723.3 L2901.7,723.3 L2903.3,723.3 L2903.3,716.7 L2905.0,716.7 L2909.2,716.7 L2909.2,713.3 L2913.3,713.3 L2914.8,713.3 L2914.8,709.1 L2917.8,709.1 L2917.8,705.0 L2919.3,705.0 L2927.2,705.0 L2927.2,702.7 L2935.0,702.7 L2936.7,702.7 L2936.7,700.1 L2940.0,700.1 L2940.0,697.6 L2943.3,697.6 L2943.3,695.0 L2945.0,695.0 L2946.2,695.0 L2946.2,691.6 L2948.8,691.6 L2948.8,688.3 L2950.0,688.3 L2952.9,688.3 L2952.9,685.0 L2958.8,685.0 L2958.8,681.7 L2961.7,681.7 L2963.8,681.7 L2963.8,679.5 L2967.9,679.5 L2967.9,677.3 L2970.0,677.3 L2970.8,677.3 L2970.8,668.3 L2971.7,668.3 L2973.3,668.3 L2973.3,665.8 L2976.7,665.8 L2976.7,663.3 L2978.3,663.3 L2979.2,663.3 L2979.2,655.0 L2980.0,655.0 L2981.2,655.0 L2981.2,652.5 L2983.8,652.5 L2983.8,650.0 L2985.0,650.0 L2986.7,650.0 L2986.7,641.7 L2988.3,641.7 L2989.7,641.7 L2989.7,639.1 L2992.5,639.1 L2992.5,636.6 L2995.3,636.6 L2995.3,634.0 L2996.7,634.0 L3002.5,634.0 L3002.5,631.7 L3008.3,631.7 L3009.2,631.7 L3009.2,623.3 L3010.0,623.3 L3011.7,623.3 L3011.7,620.8 L3015.0,620.8 L3015.0,618.3 L3016.7,618.3 L3018.3,618.3 L3018.3,609.3 L3020.0,609.3 L3023.3,609.3 L3023.3,606.0 L3026.7,606.0 L3030.8,606.0 L3030.8,603.3 L3035.0,603.3 L3036.7,603.3 L3036.7,595.0 L3038.3,595.0 L3039.5,595.0 L3039.5,585.0 L3040.7,585.0 L3042.0,585.0 L3042.0,576.7 L3043.3,576.7 L3044.7,576.7 L3044.7,574.4 L3047.4,574.4 L3047.4,572.0 L3048.8,572.0 L3050.1,572.0 L3050.1,567.9 L3052.6,567.9 L3052.6,563.8 L3053.8,563.8 L3054.4,563.8 L3054.4,555.0 L3055.0,555.0 L3058.8,555.0 L3058.8,552.5 L3062.5,552.5 L3066.2,552.5 L3066.2,550.0 L3070.0,550.0 L3070.6,550.0 L3070.6,542.5 L3071.2,542.5 L3072.8,542.5 L3072.8,539.4 L3075.9,539.4 L3075.9,536.2 L3077.5,536.2 L3078.5,536.2 L3078.5,526.2 L3079.5,526.2 L3090.0,526.2 L3090.0,525.8 L3091.2,525.8 L3091.2,523.0 L3093.8,523.0 L3093.8,520.3 L3096.2,520.3 L3096.2,517.5 L3097.5,517.5 L3099.4,517.5 L3099.4,515.0 L3103.1,515.0 L3103.1,512.5 L3105.0,512.5 L3105.6,512.5 L3105.6,502.5 L3106.2,502.5 L3107.4,502.5 L3107.4,500.0 L3109.9,500.0 L3109.9,497.5 L3111.2,497.5 L3112.5,497.5 L3112.5,492.5 L3113.8,492.5 L3115.4,492.5 L3115.4,489.4 L3118.4,489.4 L3118.4,486.2 L3120.0,486.2 L3121.2,486.2 L3121.2,481.2 L3123.8,481.2 L3123.8,476.2 L3125.0,476.2 L3128.8,476.2 L3128.8,472.5 L3132.5,472.5 L3134.2,472.5 L3134.2,468.8 L3137.8,468.8 L3137.8,465.0 L3139.5,465.0 L3140.0,465.0 L3140.0,457.5 L3140.5,457.5 L3142.6,457.5 L3142.6,454.4 L3146.7,454.4 L3146.7,451.2 L3148.8,451.2 L3150.1,451.2 L3150.1,448.1 L3152.6,448.1 L3152.6,445.0 L3153.8,445.0 L3155.0,445.0 L3155.0,435.0 L3156.2,435.0 L3157.5,435.0 L3157.5,420.0 L3158.8,420.0 L3160.7,420.0 L3160.7,415.0 L3162.5,415.0 L3165.7,415.0 L3165.7,411.2 L3168.8,411.2 L3169.4,411.2 L3169.4,408.0 L3170.0,408.0 L3171.9,408.0 L3171.9,405.6 L3175.6,405.6 L3175.6,403.2 L3177.5,403.2 L3179.4,403.2 L3179.4,401.0 L3183.1,401.0 L3183.1,398.8 L3185.0,398.8 L3186.2,398.8 L3186.2,389.5 L3187.5,389.5 L3188.9,389.5 L3188.9,385.9 L3191.8,385.9 L3191.8,382.4 L3194.8,382.4 L3194.8,378.8 L3196.2,378.8 L3198.1,378.8 L3198.1,372.5 L3200.0,372.5 L3200.6,372.5 L3200.6,366.2 L3201.2,366.2 L3202.5,366.2 L3202.5,353.8 L3203.8,353.8 L3206.9,353.8 L3206.9,350.0 L3210.0,350.0 L3210.6,350.0 L3210.6,340.0 L3211.2,340.0 L3212.5,340.0 L3212.5,336.7 L3215.0,336.7 L3215.0,333.3 L3217.5,333.3 L3217.5,330.0 L3218.8,330.0 L3220.7,330.0 L3220.7,315.0 L3222.5,315.0 L3223.2,315.0 L3223.2,308.0 L3223.8,308.0 L3225.7,308.0 L3225.7,303.8 L3227.5,303.8 L3230.7,303.8 L3230.7,301.2 L3233.8,301.2 L3235.4,301.2 L3235.4,296.2 L3238.4,296.2 L3238.4,291.2 L3240.0,291.2 L3241.6,291.2 L3241.6,286.9 L3244.6,286.9 L3244.6,282.5 L3246.2,282.5 L3247.8,282.5 L3247.8,279.4 L3250.9,279.4 L3250.9,276.2 L3252.5,276.2 L3256.2,276.2 L3256.2,272.5 L3260.0,272.5 L3261.6,272.5 L3261.6,267.5 L3264.6,267.5 L3264.6,262.5 L3266.2,262.5 L3267.5,262.5 L3267.5,260.0 L3270.0,260.0 L3270.0,257.5 L3272.5,257.5 L3272.5,255.0 L3273.8,255.0 L3274.4,255.0 L3274.4,247.0 L3275.0,247.0 L3276.9,247.0 L3276.9,243.5 L3280.6,243.5 L3280.6,240.0 L3282.5,240.0 L3284.1,240.0 L3284.1,235.0 L3287.2,235.0 L3287.2,230.0 L3288.8,230.0 L3290.4,230.0 L3290.4,225.0 L3293.4,225.0 L3293.4,220.0 L3295.0,220.0 L3295.6,220.0 L3295.6,212.5 L3296.2,212.5 L3297.8,212.5 L3297.8,208.8 L3300.9,208.8 L3300.9,205.0 L3302.5,205.0 L3303.8,205.0 L3303.8,201.9 L3306.2,201.9 L3306.2,198.8 L3307.5,198.8 L3312.5,198.8 L3312.5,196.2 L3317.5,196.2 L3325.0,196.2 L3325.0,195.5 L3482.0,195.5 L3482.0,195.5" fill="none" stroke="#8A9BA3" stroke-width="4.45" stroke-linejoin="round" stroke-linecap="butt"/>
<path d="M413.3,1739.3 L573.3,1739.3 L573.3,1738.7 L574.0,1737.3 L603.6,1737.3 L603.6,1736.3 L633.3,1736.3 L640.0,1736.3 L640.0,1734.3 L646.7,1734.3 L650.0,1734.3 L650.0,1732.2 L656.7,1732.2 L656.7,1730.0 L660.0,1730.0 L664.2,1730.0 L664.2,1727.8 L672.5,1727.8 L672.5,1725.7 L676.7,1725.7 L680.9,1725.7 L680.9,1723.5 L689.1,1723.5 L689.1,1721.3 L693.3,1721.3 L695.8,1721.3 L695.8,1719.3 L700.8,1719.3 L700.8,1717.3 L705.8,1717.3 L705.8,1715.3 L710.8,1715.3 L710.8,1713.3 L713.3,1713.3 L714.5,1713.3 L714.5,1711.4 L717.0,1711.4 L717.0,1709.5 L719.5,1709.5 L719.5,1707.7 L722.0,1707.7 L722.0,1705.8 L724.5,1705.8 L724.5,1703.9 L727.0,1703.9 L727.0,1702.0 L729.5,1702.0 L729.5,1700.2 L732.0,1700.2 L732.0,1698.3 L733.3,1698.3 L734.6,1698.3 L734.6,1696.3 L737.3,1696.3 L737.3,1694.3 L740.0,1694.3 L740.0,1692.3 L742.7,1692.3 L742.7,1690.3 L745.4,1690.3 L745.4,1688.3 L746.7,1688.3 L748.4,1688.3 L748.4,1686.2 L751.7,1686.2 L751.7,1684.2 L755.0,1684.2 L755.0,1682.1 L758.3,1682.1 L758.3,1680.0 L760.0,1680.0 L761.2,1680.0 L761.2,1678.1 L763.6,1678.1 L763.6,1676.2 L766.0,1676.2 L766.0,1674.3 L768.4,1674.3 L768.4,1672.4 L770.7,1672.4 L770.7,1670.5 L773.1,1670.5 L773.1,1668.6 L775.5,1668.6 L775.5,1666.7 L776.7,1666.7 L778.4,1666.7 L778.4,1664.8 L781.7,1664.8 L781.7,1662.9 L785.0,1662.9 L785.0,1661.1 L788.3,1661.1 L788.3,1659.2 L791.6,1659.2 L791.6,1657.3 L793.3,1657.3 L795.3,1657.3 L795.3,1655.2 L799.3,1655.2 L799.3,1653.1 L803.3,1653.1 L803.3,1650.9 L807.3,1650.9 L807.3,1648.8 L811.3,1648.8 L811.3,1646.7 L813.3,1646.7 L815.0,1646.7 L815.0,1644.6 L818.3,1644.6 L818.3,1642.6 L821.6,1642.6 L821.6,1640.5 L825.0,1640.5 L825.0,1638.4 L828.3,1638.4 L828.3,1636.4 L831.6,1636.4 L831.6,1634.3 L833.3,1634.3 L834.3,1634.3 L834.3,1632.0 L836.4,1632.0 L836.4,1629.7 L838.5,1629.7 L838.5,1627.4 L840.6,1627.4 L840.6,1625.2 L842.7,1625.2 L842.7,1622.9 L844.8,1622.9 L844.8,1620.6 L846.9,1620.6 L846.9,1618.3 L849.0,1618.3 L849.0,1616.0 L850.0,1616.0 L852.0,1616.0 L852.0,1614.2 L856.0,1614.2 L856.0,1612.5 L860.0,1612.5 L860.0,1610.8 L864.0,1610.8 L864.0,1609.0 L866.0,1609.0 L866.7,1604.0 L868.9,1604.0 L868.9,1602.1 L873.4,1602.1 L873.4,1600.2 L877.8,1600.2 L877.8,1598.3 L880.0,1598.3 L881.7,1598.3 L881.7,1596.5 L885.0,1596.5 L885.0,1594.6 L888.3,1594.6 L888.3,1592.8 L891.7,1592.8 L891.7,1591.0 L895.0,1591.0 L895.0,1589.1 L898.3,1589.1 L898.3,1587.3 L900.0,1587.3 L901.7,1587.3 L901.7,1585.2 L905.0,1585.2 L905.0,1583.2 L908.3,1583.2 L908.3,1581.2 L911.7,1581.2 L911.7,1579.1 L915.0,1579.1 L915.0,1577.0 L918.3,1577.0 L918.3,1575.0 L920.0,1575.0 L925.0,1575.0 L925.0,1572.8 L935.0,1572.8 L935.0,1570.7 L940.0,1570.7 L941.2,1570.7 L941.2,1568.7 L943.8,1568.7 L943.8,1566.7 L946.2,1566.7 L946.2,1564.7 L948.8,1564.7 L948.8,1562.7 L950.0,1562.7 L952.8,1562.7 L952.8,1560.5 L958.4,1560.5 L958.4,1558.2 L963.9,1558.2 L963.9,1556.0 L966.7,1556.0 L968.7,1556.0 L968.7,1554.0 L972.7,1554.0 L972.7,1552.0 L976.7,1552.0 L976.7,1550.0 L980.7,1550.0 L980.7,1548.0 L984.7,1548.0 L984.7,1546.0 L986.7,1546.0 L989.2,1546.0 L989.2,1544.1 L994.2,1544.1 L994.2,1542.2 L999.2,1542.2 L999.2,1540.2 L1004.2,1540.2 L1004.2,1538.3 L1006.7,1538.3 L1009.2,1538.3 L1009.2,1536.0 L1014.2,1536.0 L1014.2,1533.8 L1019.2,1533.8 L1019.2,1531.5 L1024.2,1531.5 L1024.2,1529.3 L1026.7,1529.3 L1028.4,1529.3 L1028.4,1527.5 L1031.7,1527.5 L1031.7,1525.6 L1035.0,1525.6 L1035.0,1523.8 L1038.4,1523.8 L1038.4,1522.0 L1041.7,1522.0 L1041.7,1520.1 L1045.0,1520.1 L1045.0,1518.3 L1046.7,1518.3 L1049.2,1518.3 L1049.2,1516.2 L1054.2,1516.2 L1054.2,1514.0 L1056.7,1514.0 L1061.7,1514.0 L1061.7,1511.7 L1071.7,1511.7 L1071.7,1509.3 L1076.7,1509.3 L1080.0,1509.3 L1080.0,1507.2 L1086.7,1507.2 L1086.7,1505.0 L1090.0,1505.0 L1095.0,1505.0 L1095.0,1503.7 L1100.0,1503.7 L1100.0,1503.7 L1102.5,1503.7 L1102.5,1502.5 L1105.0,1502.5 L1106.5,1502.5 L1106.5,1500.4 L1109.3,1500.4 L1109.3,1498.3 L1110.8,1498.3 L1118.3,1498.3 L1118.3,1497.5 L1130.8,1497.5 L1130.8,1497.0 L1131.3,1487.0 L1134.8,1487.0 L1134.8,1485.3 L1138.3,1485.3 L1141.2,1485.3 L1141.2,1483.5 L1147.1,1483.5 L1147.1,1481.7 L1150.0,1481.7 L1154.2,1481.7 L1154.2,1480.0 L1158.3,1480.0 L1162.5,1480.0 L1162.5,1477.2 L1166.7,1477.2 L1170.8,1477.2 L1170.8,1475.0 L1175.0,1475.0 L1177.1,1475.0 L1177.1,1473.3 L1181.2,1473.3 L1181.2,1471.7 L1183.3,1471.7 L1184.3,1471.7 L1184.3,1468.3 L1186.5,1468.3 L1186.5,1465.0 L1187.5,1465.0 L1192.9,1465.0 L1192.9,1462.5 L1198.3,1462.5 L1200.0,1462.5 L1200.0,1460.6 L1203.3,1460.6 L1203.3,1458.7 L1205.0,1458.7 L1216.7,1458.7 L1216.7,1458.0 L1217.5,1458.0 L1217.5,1456.1 L1219.2,1456.1 L1219.2,1454.2 L1220.0,1454.2 L1222.5,1454.2 L1222.5,1452.5 L1227.5,1452.5 L1227.5,1450.8 L1230.0,1450.8 L1238.3,1450.8 L1238.3,1450.0 L1239.5,1450.0 L1239.5,1448.5 L1242.0,1448.5 L1242.0,1447.0 L1243.3,1447.0 L1249.2,1447.0 L1249.2,1444.7 L1255.0,1444.7 L1258.3,1444.7 L1258.3,1443.7 L1261.7,1443.7 L1264.2,1443.7 L1264.2,1441.7 L1266.7,1441.7 L1270.8,1441.7 L1270.8,1440.8 L1275.0,1440.8 L1277.1,1440.8 L1277.1,1438.5 L1281.2,1438.5 L1281.2,1436.3 L1283.3,1436.3 L1286.2,1436.3 L1286.2,1434.8 L1292.1,1434.8 L1292.1,1433.3 L1295.0,1433.3 L1297.9,1433.3 L1297.9,1431.2 L1303.8,1431.2 L1303.8,1429.2 L1306.7,1429.2 L1308.3,1429.2 L1308.3,1427.2 L1311.7,1427.2 L1311.7,1425.3 L1313.3,1425.3 L1318.3,1425.3 L1318.3,1424.2 L1323.3,1424.2 L1324.5,1424.2 L1324.5,1422.0 L1327.0,1422.0 L1327.0,1419.7 L1328.3,1419.7 L1331.7,1419.7 L1331.7,1417.8 L1338.3,1417.8 L1338.3,1415.8 L1341.7,1415.8 L1346.7,1415.8 L1346.7,1414.7 L1351.7,1414.7 L1353.3,1414.7 L1353.3,1413.2 L1356.7,1413.2 L1356.7,1411.7 L1358.3,1411.7 L1365.0,1411.7 L1365.0,1410.0 L1371.7,1410.0 L1373.8,1410.0 L1373.8,1408.3 L1377.9,1408.3 L1377.9,1406.7 L1380.0,1406.7 L1380.7,1406.7 L1380.7,1401.3 L1381.3,1401.3 L1385.7,1401.3 L1385.7,1399.7 L1390.0,1399.7 L1393.3,1399.7 L1393.3,1397.5 L1400.0,1397.5 L1400.0,1395.3 L1403.3,1395.3 L1403.8,1395.3 L1403.8,1389.2 L1404.2,1389.2 L1406.5,1389.2 L1406.5,1387.5 L1411.0,1387.5 L1411.0,1385.8 L1413.3,1385.8 L1417.5,1385.8 L1417.5,1383.0 L1421.7,1383.0 L1427.5,1383.0 L1427.5,1380.8 L1433.3,1380.8 L1435.4,1380.8 L1435.4,1379.2 L1439.6,1379.2 L1439.6,1377.5 L1441.7,1377.5 L1444.2,1377.5 L1444.2,1374.7 L1446.7,1374.7 L1449.6,1374.7 L1449.6,1373.2 L1455.4,1373.2 L1455.4,1371.7 L1458.3,1371.7 L1461.2,1371.7 L1461.2,1370.0 L1467.1,1370.0 L1467.1,1368.3 L1470.0,1368.3 L1472.1,1368.3 L1472.1,1365.8 L1476.2,1365.8 L1476.2,1363.3 L1478.3,1363.3 L1480.6,1363.3 L1480.6,1361.4 L1485.2,1361.4 L1485.2,1359.4 L1489.7,1359.4 L1489.7,1357.5 L1492.0,1357.5 L1496.0,1357.5 L1496.0,1355.0 L1500.0,1355.0 L1502.5,1355.0 L1502.5,1352.5 L1507.5,1352.5 L1507.5,1350.0 L1510.0,1350.0 L1514.2,1350.0 L1514.2,1348.0 L1522.5,1348.0 L1522.5,1346.0 L1526.7,1346.0 L1527.8,1346.0 L1527.8,1344.0 L1530.0,1344.0 L1530.0,1342.0 L1532.2,1342.0 L1532.2,1340.0 L1533.3,1340.0 L1534.2,1340.0 L1534.2,1337.2 L1535.8,1337.2 L1535.8,1334.3 L1536.7,1334.3 L1540.8,1334.3 L1540.8,1332.2 L1549.2,1332.2 L1549.2,1330.0 L1553.3,1330.0 L1560.0,1330.0 L1560.0,1328.3 L1566.7,1328.3 L1570.0,1328.3 L1570.0,1326.2 L1576.7,1326.2 L1576.7,1324.0 L1580.0,1324.0 L1585.0,1324.0 L1585.0,1322.7 L1590.0,1322.7 L1592.2,1322.7 L1592.2,1320.9 L1596.7,1320.9 L1596.7,1319.1 L1601.1,1319.1 L1601.1,1317.3 L1603.3,1317.3 L1607.5,1317.3 L1607.5,1315.7 L1615.8,1315.7 L1615.8,1314.0 L1620.0,1314.0 L1621.4,1314.0 L1621.4,1312.1 L1624.2,1312.1 L1624.2,1310.2 L1626.9,1310.2 L1626.9,1308.3 L1628.3,1308.3 L1633.7,1308.3 L1633.7,1306.7 L1644.6,1306.7 L1644.6,1305.0 L1650.0,1305.0 L1660.0,1305.0 L1660.0,1302.7 L1670.0,1302.7 L1672.5,1302.7 L1672.5,1300.5 L1677.5,1300.5 L1677.5,1298.3 L1680.0,1298.3 L1685.8,1298.3 L1685.8,1296.0 L1691.7,1296.0 L1693.1,1296.0 L1693.1,1294.0 L1695.8,1294.0 L1695.8,1292.0 L1698.6,1292.0 L1698.6,1290.0 L1700.0,1290.0 L1705.0,1290.0 L1705.0,1287.3 L1710.0,1287.3 L1715.0,1287.3 L1715.0,1285.3 L1725.0,1285.3 L1725.0,1283.3 L1730.0,1283.3 L1733.3,1283.3 L1733.3,1281.1 L1740.0,1281.1 L1740.0,1278.9 L1746.7,1278.9 L1746.7,1276.7 L1750.0,1276.7 L1754.2,1276.7 L1754.2,1274.7 L1762.5,1274.7 L1762.5,1272.7 L1766.7,1272.7 L1770.0,1272.7 L1770.0,1270.7 L1773.3,1270.7 L1774.3,1270.7 L1774.3,1268.7 L1776.3,1268.7 L1776.3,1266.7 L1778.3,1266.7 L1778.3,1264.7 L1780.3,1264.7 L1780.3,1262.7 L1782.3,1262.7 L1782.3,1260.7 L1783.3,1260.7 L1784.5,1260.7 L1784.5,1257.8 L1787.0,1257.8 L1787.0,1255.0 L1788.3,1255.0 L1793.3,1255.0 L1793.3,1253.3 L1798.3,1253.3 L1799.4,1253.3 L1799.4,1251.1 L1801.7,1251.1 L1801.7,1248.9 L1803.9,1248.9 L1803.9,1246.7 L1805.0,1246.7 L1807.5,1246.7 L1807.5,1244.8 L1812.5,1244.8 L1812.5,1242.9 L1817.5,1242.9 L1817.5,1241.0 L1820.0,1241.0 L1843.3,1241.0 L1843.3,1239.0 L1866.7,1239.0 L1872.5,1239.0 L1872.5,1237.0 L1884.2,1237.0 L1884.2,1235.0 L1890.0,1235.0 L1899.2,1235.0 L1899.2,1232.7 L1908.3,1232.7 L1910.4,1232.7 L1910.4,1230.2 L1914.6,1230.2 L1914.6,1227.7 L1916.7,1227.7 L1930.0,1227.7 L1930.0,1225.0 L1943.3,1225.0 L1956.7,1225.0 L1956.7,1222.7 L1970.0,1222.7 L1977.5,1222.7 L1977.5,1221.0 L1992.5,1221.0 L1992.5,1219.3 L2000.0,1219.3 L2003.3,1219.3 L2003.3,1216.7 L2006.7,1216.7 L2012.5,1216.7 L2012.5,1215.0 L2024.2,1215.0 L2024.2,1213.3 L2030.0,1213.3 L2043.3,1213.3 L2043.3,1212.3 L2056.7,1212.3 L2062.5,1212.3 L2062.5,1210.0 L2068.3,1210.0 L2070.0,1210.0 L2070.0,1208.0 L2073.3,1208.0 L2073.3,1206.0 L2075.0,1206.0 L2083.3,1206.0 L2083.3,1204.2 L2100.0,1204.2 L2100.0,1202.3 L2108.3,1202.3 L2110.0,1202.3 L2110.0,1200.7 L2113.3,1200.7 L2113.3,1199.0 L2115.0,1199.0 L2121.4,1199.0 L2121.4,1196.9 L2134.2,1196.9 L2134.2,1194.8 L2146.9,1194.8 L2146.9,1192.7 L2153.3,1192.7 L2155.8,1192.7 L2155.8,1190.5 L2160.8,1190.5 L2160.8,1188.3 L2163.3,1188.3 L2168.3,1188.3 L2168.3,1186.7 L2178.3,1186.7 L2178.3,1185.0 L2183.3,1185.0 L2188.3,1185.0 L2188.3,1182.7 L2193.3,1182.7 L2199.2,1182.7 L2199.2,1181.0 L2210.8,1181.0 L2210.8,1179.3 L2216.7,1179.3 L2222.5,1179.3 L2222.5,1177.5 L2234.2,1177.5 L2234.2,1175.7 L2240.0,1175.7 L2244.2,1175.7 L2244.2,1173.3 L2252.5,1173.3 L2252.5,1171.0 L2256.7,1171.0 L2258.4,1171.0 L2258.4,1168.8 L2261.7,1168.8 L2261.7,1166.5 L2265.0,1166.5 L2265.0,1164.3 L2266.7,1164.3 L2269.5,1164.3 L2269.5,1162.3 L2275.0,1162.3 L2275.0,1160.3 L2280.5,1160.3 L2280.5,1158.3 L2283.3,1158.3 L2288.3,1158.3 L2288.3,1156.7 L2293.3,1156.7 L2295.5,1156.7 L2295.5,1154.7 L2300.0,1154.7 L2300.0,1152.7 L2304.5,1152.7 L2304.5,1150.7 L2306.7,1150.7 L2308.1,1150.7 L2308.1,1148.6 L2311.1,1148.6 L2311.1,1146.5 L2313.9,1146.5 L2313.9,1144.4 L2316.9,1144.4 L2316.9,1142.3 L2318.3,1142.3 L2322.9,1142.3 L2322.9,1140.0 L2332.1,1140.0 L2332.1,1137.7 L2336.7,1137.7 L2340.0,1137.7 L2340.0,1136.0 L2346.7,1136.0 L2346.7,1134.3 L2350.0,1134.3 L2353.3,1134.3 L2353.3,1131.8 L2360.0,1131.8 L2360.0,1129.3 L2363.3,1129.3 L2369.7,1129.3 L2369.7,1126.7 L2376.0,1126.7 L2377.2,1126.7 L2377.2,1123.3 L2378.3,1123.3 L2382.9,1123.3 L2382.9,1121.7 L2392.1,1121.7 L2392.1,1120.0 L2396.7,1120.0 L2399.2,1120.0 L2399.2,1118.0 L2404.2,1118.0 L2404.2,1116.0 L2406.7,1116.0 L2413.0,1116.0 L2413.0,1113.3 L2419.3,1113.3 L2420.2,1113.3 L2420.2,1106.7 L2421.0,1106.7 L2423.9,1106.7 L2423.9,1104.8 L2429.7,1104.8 L2429.7,1102.9 L2435.5,1102.9 L2435.5,1101.1 L2441.3,1101.1 L2441.3,1099.2 L2447.1,1099.2 L2447.1,1097.3 L2450.0,1097.3 L2452.9,1097.3 L2452.9,1095.3 L2458.7,1095.3 L2458.7,1093.3 L2464.6,1093.3 L2464.6,1091.3 L2470.4,1091.3 L2470.4,1089.3 L2473.3,1089.3 L2476.1,1089.3 L2476.1,1087.1 L2481.7,1087.1 L2481.7,1084.9 L2487.2,1084.9 L2487.2,1082.7 L2490.0,1082.7 L2495.0,1082.7 L2495.0,1080.0 L2500.0,1080.0 L2502.8,1080.0 L2502.8,1078.0 L2508.3,1078.0 L2508.3,1076.0 L2513.9,1076.0 L2513.9,1074.0 L2516.7,1074.0 L2520.8,1074.0 L2520.8,1071.7 L2529.2,1071.7 L2529.2,1069.3 L2533.3,1069.3 L2536.6,1069.3 L2536.6,1067.3 L2543.3,1067.3 L2543.3,1065.3 L2550.0,1065.3 L2550.0,1063.3 L2553.3,1063.3 L2556.6,1063.3 L2556.6,1061.1 L2563.3,1061.1 L2563.3,1058.9 L2570.0,1058.9 L2570.0,1056.7 L2573.3,1056.7 L2575.0,1056.7 L2575.0,1054.6 L2578.3,1054.6 L2578.3,1052.5 L2581.7,1052.5 L2581.7,1050.4 L2585.0,1050.4 L2585.0,1048.3 L2586.7,1048.3 L2589.5,1048.3 L2589.5,1046.1 L2595.0,1046.1 L2595.0,1043.9 L2600.5,1043.9 L2600.5,1041.7 L2603.3,1041.7 L2605.4,1041.7 L2605.4,1039.5 L2609.6,1039.5 L2609.6,1037.2 L2613.7,1037.2 L2613.7,1035.0 L2617.9,1035.0 L2617.9,1032.7 L2620.0,1032.7 L2622.2,1032.7 L2622.2,1030.9 L2626.7,1030.9 L2626.7,1029.1 L2631.1,1029.1 L2631.1,1027.3 L2633.3,1027.3 L2635.8,1027.3 L2635.8,1025.3 L2640.8,1025.3 L2640.8,1023.3 L2645.8,1023.3 L2645.8,1021.3 L2650.8,1021.3 L2650.8,1019.3 L2653.3,1019.3 L2655.5,1019.3 L2655.5,1017.1 L2660.0,1017.1 L2660.0,1014.9 L2664.5,1014.9 L2664.5,1012.7 L2666.7,1012.7 L2668.4,1012.7 L2668.4,1010.8 L2671.7,1010.8 L2671.7,1008.9 L2675.0,1008.9 L2675.0,1007.1 L2678.3,1007.1 L2678.3,1005.2 L2681.6,1005.2 L2681.6,1003.3 L2683.3,1003.3 L2686.1,1003.3 L2686.1,1001.3 L2691.7,1001.3 L2691.7,999.3 L2697.2,999.3 L2697.2,997.3 L2700.0,997.3 L2701.3,997.3 L2701.3,995.2 L2704.0,995.2 L2704.0,993.1 L2706.7,993.1 L2706.7,990.9 L2709.3,990.9 L2709.3,988.8 L2712.0,988.8 L2712.0,986.7 L2713.3,986.7 L2714.6,986.7 L2714.6,984.7 L2717.3,984.7 L2717.3,982.7 L2720.0,982.7 L2720.0,980.7 L2722.7,980.7 L2722.7,978.7 L2725.4,978.7 L2725.4,976.7 L2726.7,976.7 L2729.2,976.7 L2729.2,975.0 L2734.2,975.0 L2734.2,973.3 L2736.7,973.3 L2738.0,973.3 L2738.0,971.3 L2740.7,971.3 L2740.7,969.3 L2743.3,969.3 L2743.3,967.3 L2746.0,967.3 L2746.0,965.3 L2748.7,965.3 L2748.7,963.3 L2750.0,963.3 L2751.2,963.3 L2751.2,957.5 L2753.8,957.5 L2753.8,951.7 L2755.0,951.7 L2757.9,951.7 L2757.9,950.0 L2763.8,950.0 L2763.8,948.3 L2766.7,948.3 L2770.4,948.3 L2770.4,945.8 L2777.9,945.8 L2777.9,943.3 L2781.7,943.3 L2782.7,943.3 L2782.7,940.8 L2784.8,940.8 L2784.8,938.3 L2786.9,938.3 L2786.9,935.8 L2789.0,935.8 L2789.0,933.3 L2790.0,933.3 L2791.2,933.3 L2791.2,931.4 L2793.6,931.4 L2793.6,929.5 L2796.0,929.5 L2796.0,927.6 L2798.3,927.6 L2798.3,925.7 L2800.7,925.7 L2800.7,923.8 L2803.1,923.8 L2803.1,921.9 L2805.5,921.9 L2805.5,920.0 L2806.7,920.0 L2808.4,920.0 L2808.4,917.9 L2811.7,917.9 L2811.7,915.9 L2815.0,915.9 L2815.0,913.8 L2818.3,913.8 L2818.3,911.7 L2820.0,911.7 L2822.2,911.7 L2822.2,909.8 L2826.7,909.8 L2826.7,907.9 L2831.1,907.9 L2831.1,906.0 L2833.3,906.0 L2834.4,906.0 L2834.4,903.9 L2836.7,903.9 L2836.7,901.8 L2838.9,901.8 L2838.9,899.6 L2841.1,899.6 L2841.1,897.5 L2843.3,897.5 L2843.3,895.4 L2845.6,895.4 L2845.6,893.3 L2846.7,893.3 L2847.7,893.3 L2847.7,891.2 L2849.7,891.2 L2849.7,889.1 L2851.7,889.1 L2851.7,886.9 L2853.7,886.9 L2853.7,884.8 L2855.7,884.8 L2855.7,882.7 L2856.7,882.7 L2857.9,882.7 L2857.9,880.8 L2860.4,880.8 L2860.4,878.9 L2862.9,878.9 L2862.9,876.9 L2865.4,876.9 L2865.4,875.0 L2866.7,875.0 L2868.0,875.0 L2868.0,863.3 L2869.3,863.3 L2870.6,863.3 L2870.6,861.2 L2873.3,861.2 L2873.3,859.1 L2876.0,859.1 L2876.0,857.1 L2878.7,857.1 L2878.7,855.0 L2880.0,855.0 L2881.7,855.0 L2881.7,852.8 L2885.0,852.8 L2885.0,850.5 L2888.3,850.5 L2888.3,848.2 L2891.6,848.2 L2891.6,846.0 L2893.3,846.0 L2894.4,846.0 L2894.4,844.0 L2896.6,844.0 L2896.6,842.1 L2898.9,842.1 L2898.9,840.1 L2901.1,840.1 L2901.1,838.1 L2903.3,838.1 L2903.3,836.2 L2905.5,836.2 L2905.5,834.2 L2907.7,834.2 L2907.7,832.2 L2910.0,832.2 L2910.0,830.3 L2912.2,830.3 L2912.2,828.3 L2913.3,828.3 L2915.2,828.3 L2915.2,826.0 L2918.9,826.0 L2918.9,823.8 L2922.7,823.8 L2922.7,821.5 L2926.4,821.5 L2926.4,819.3 L2928.3,819.3 L2929.2,819.3 L2929.2,814.6 L2930.8,814.6 L2930.8,810.0 L2931.7,810.0 L2932.7,810.0 L2932.7,807.7 L2934.7,807.7 L2934.7,805.3 L2936.7,805.3 L2936.7,803.0 L2938.7,803.0 L2938.7,800.6 L2940.7,800.6 L2940.7,798.3 L2941.7,798.3 L2942.9,798.3 L2942.9,796.3 L2945.2,796.3 L2945.2,794.3 L2947.5,794.3 L2947.5,792.3 L2949.8,792.3 L2949.8,790.3 L2952.1,790.3 L2952.1,788.3 L2953.3,788.3 L2954.4,788.3 L2954.4,785.3 L2956.7,785.3 L2956.7,782.3 L2958.9,782.3 L2958.9,779.3 L2960.0,779.3 L2961.1,779.3 L2961.1,777.3 L2963.3,777.3 L2963.3,775.3 L2965.6,775.3 L2965.6,773.3 L2966.7,773.3 L2967.8,773.3 L2967.8,769.8 L2970.0,769.8 L2970.0,766.2 L2972.2,766.2 L2972.2,762.7 L2973.3,762.7 L2974.4,762.7 L2974.4,759.4 L2976.7,759.4 L2976.7,756.0 L2978.9,756.0 L2978.9,752.7 L2980.0,752.7 L2981.0,752.7 L2981.0,750.4 L2983.1,750.4 L2983.1,748.0 L2985.2,748.0 L2985.2,745.6 L2987.3,745.6 L2987.3,743.3 L2988.3,743.3 L2989.4,743.3 L2989.4,739.8 L2991.7,739.8 L2991.7,736.2 L2993.9,736.2 L2993.9,732.7 L2995.0,732.7 L2996.0,732.7 L2996.0,730.6 L2997.9,730.6 L2997.9,728.5 L2999.9,728.5 L2999.9,726.4 L3001.8,726.4 L3001.8,724.2 L3003.8,724.2 L3003.8,722.1 L3005.7,722.1 L3005.7,720.0 L3006.7,720.0 L3007.6,720.0 L3007.6,717.1 L3009.5,717.1 L3009.5,714.3 L3011.4,714.3 L3011.4,711.4 L3013.3,711.4 L3013.3,708.6 L3015.2,708.6 L3015.2,705.7 L3017.2,705.7 L3017.2,702.9 L3019.1,702.9 L3019.1,700.0 L3020.0,700.0 L3020.9,700.0 L3020.9,697.9 L3022.8,697.9 L3022.8,695.7 L3024.8,695.7 L3024.8,693.6 L3026.7,693.6 L3026.7,691.4 L3028.6,691.4 L3028.6,689.3 L3030.5,689.3 L3030.5,687.1 L3032.4,687.1 L3032.4,685.0 L3033.3,685.0 L3034.4,685.0 L3034.4,682.0 L3036.7,682.0 L3036.7,679.0 L3038.9,679.0 L3038.9,676.0 L3040.0,676.0 L3041.0,676.0 L3041.0,673.8 L3043.0,673.8 L3043.0,671.6 L3045.0,671.6 L3045.0,669.4 L3047.0,669.4 L3047.0,667.2 L3049.0,667.2 L3049.0,665.0 L3050.0,665.0 L3051.0,665.0 L3051.0,662.5 L3053.1,662.5 L3053.1,660.0 L3055.2,660.0 L3055.2,657.5 L3057.3,657.5 L3057.3,655.0 L3058.3,655.0 L3059.4,655.0 L3059.4,652.9 L3061.4,652.9 L3061.4,650.9 L3063.6,650.9 L3063.6,648.8 L3065.6,648.8 L3065.6,646.7 L3066.7,646.7 L3067.7,646.7 L3067.7,643.0 L3069.8,643.0 L3069.8,639.2 L3071.9,639.2 L3071.9,635.5 L3074.0,635.5 L3074.0,631.7 L3075.0,631.7 L3076.1,631.7 L3076.1,626.7 L3078.3,626.7 L3078.3,621.7 L3080.6,621.7 L3080.6,616.7 L3081.7,616.7 L3082.8,616.7 L3082.8,612.2 L3085.0,612.2 L3085.0,607.8 L3087.2,607.8 L3087.2,603.3 L3088.3,603.3 L3089.4,603.3 L3089.4,599.1 L3091.4,599.1 L3091.4,595.0 L3093.6,595.0 L3093.6,590.9 L3095.6,590.9 L3095.6,586.7 L3096.7,586.7 L3097.8,586.7 L3097.8,582.2 L3100.0,582.2 L3100.0,577.8 L3102.2,577.8 L3102.2,573.3 L3103.3,573.3 L3104.4,573.3 L3104.4,568.0 L3106.7,568.0 L3106.7,562.8 L3108.9,562.8 L3108.9,557.5 L3110.0,557.5 L3111.0,557.5 L3111.0,554.6 L3113.1,554.6 L3113.1,551.7 L3115.2,551.7 L3115.2,548.8 L3116.2,548.8 L3117.5,548.8 L3117.5,540.0 L3118.8,540.0 L3119.8,540.0 L3119.8,535.8 L3121.9,535.8 L3121.9,531.7 L3124.0,531.7 L3124.0,527.5 L3125.0,527.5 L3125.9,527.5 L3125.9,523.1 L3127.9,523.1 L3127.9,518.8 L3128.8,518.8 L3129.7,518.8 L3129.7,515.3 L3131.6,515.3 L3131.6,511.9 L3133.4,511.9 L3133.4,508.4 L3135.3,508.4 L3135.3,505.0 L3136.2,505.0 L3137.2,505.0 L3137.2,501.7 L3139.3,501.7 L3139.3,498.3 L3141.4,498.3 L3141.4,495.0 L3142.5,495.0 L3143.4,495.0 L3143.4,493.2 L3145.3,493.2 L3145.3,491.5 L3147.2,491.5 L3147.2,489.8 L3149.1,489.8 L3149.1,488.0 L3150.0,488.0 L3150.9,488.0 L3150.9,484.0 L3152.9,484.0 L3152.9,480.0 L3153.8,480.0 L3154.8,480.0 L3154.8,474.2 L3156.9,474.2 L3156.9,468.3 L3159.0,468.3 L3159.0,462.5 L3160.0,462.5 L3160.9,462.5 L3160.9,460.0 L3162.8,460.0 L3162.8,457.5 L3164.7,457.5 L3164.7,455.0 L3166.6,455.0 L3166.6,452.5 L3167.5,452.5 L3168.6,452.5 L3168.6,448.4 L3170.8,448.4 L3170.8,444.4 L3172.9,444.4 L3172.9,440.3 L3175.1,440.3 L3175.1,436.2 L3176.2,436.2 L3177.2,436.2 L3177.2,434.1 L3179.3,434.1 L3179.3,432.1 L3181.4,432.1 L3181.4,430.0 L3182.5,430.0 L3183.4,430.0 L3183.4,427.5 L3185.3,427.5 L3185.3,425.0 L3187.2,425.0 L3187.2,422.5 L3189.1,422.5 L3189.1,420.0 L3190.0,420.0 L3191.0,420.0 L3191.0,415.4 L3193.1,415.4 L3193.1,410.8 L3195.2,410.8 L3195.2,406.2 L3196.2,406.2 L3197.2,406.2 L3197.2,402.5 L3199.2,402.5 L3199.2,398.7 L3201.2,398.7 L3201.2,395.0 L3203.2,395.0 L3203.2,391.2 L3205.2,391.2 L3205.2,387.5 L3206.2,387.5 L3207.4,387.5 L3207.4,379.4 L3209.9,379.4 L3209.9,371.2 L3211.2,371.2 L3212.4,371.2 L3212.4,365.0 L3214.9,365.0 L3214.9,358.8 L3216.2,358.8 L3217.1,358.8 L3217.1,355.1 L3219.1,355.1 L3219.1,351.3 L3220.9,351.3 L3220.9,347.6 L3222.9,347.6 L3222.9,343.8 L3223.8,343.8 L3224.9,343.8 L3224.9,341.0 L3227.1,341.0 L3227.1,338.1 L3229.2,338.1 L3229.2,335.3 L3231.4,335.3 L3231.4,332.5 L3232.5,332.5 L3233.4,332.5 L3233.4,329.1 L3235.3,329.1 L3235.3,325.6 L3237.2,325.6 L3237.2,322.2 L3239.1,322.2 L3239.1,318.8 L3240.0,318.8 L3241.1,318.8 L3241.1,315.4 L3243.3,315.4 L3243.3,311.9 L3245.5,311.9 L3245.5,308.4 L3247.7,308.4 L3247.7,305.0 L3248.8,305.0 L3249.9,305.0 L3249.9,300.7 L3252.2,300.7 L3252.2,296.3 L3254.4,296.3 L3254.4,292.0 L3255.5,292.0 L3256.3,292.0 L3256.3,286.0 L3258.0,286.0 L3258.0,280.0 L3258.8,280.0 L3259.8,280.0 L3259.8,276.3 L3261.9,276.3 L3261.9,272.5 L3264.0,272.5 L3264.0,268.8 L3265.0,268.8 L3265.9,268.8 L3265.9,266.0 L3267.8,266.0 L3267.8,263.1 L3269.7,263.1 L3269.7,260.3 L3271.6,260.3 L3271.6,257.5 L3272.5,257.5 L3273.6,257.5 L3273.6,254.1 L3275.8,254.1 L3275.8,250.7 L3277.9,250.7 L3277.9,247.2 L3280.1,247.2 L3280.1,243.8 L3281.2,243.8 L3282.1,243.8 L3282.1,241.3 L3284.1,241.3 L3284.1,238.8 L3285.9,238.8 L3285.9,236.3 L3287.9,236.3 L3287.9,233.8 L3288.8,233.8 L3289.7,233.8 L3289.7,231.0 L3291.6,231.0 L3291.6,228.2 L3293.4,228.2 L3293.4,225.3 L3295.3,225.3 L3295.3,222.5 L3296.2,222.5 L3297.2,222.5 L3297.2,220.0 L3299.3,220.0 L3299.3,217.5 L3301.4,217.5 L3301.4,215.0 L3302.5,215.0 L3303.4,215.0 L3303.4,212.5 L3305.3,212.5 L3305.3,210.0 L3307.2,210.0 L3307.2,207.5 L3309.1,207.5 L3309.1,205.0 L3310.0,205.0 L3311.2,205.0 L3311.2,203.2 L3313.8,203.2 L3313.8,201.3 L3316.2,201.3 L3316.2,199.5 L3317.5,199.5 L3321.2,199.5 L3321.2,197.0 L3325.0,197.0 L3330.6,197.0 L3330.6,195.8 L3336.2,195.8 L3482.0,195.8 L3482.0,195.5" fill="none" stroke="#C8300F" stroke-width="4.45" stroke-linejoin="round" stroke-linecap="butt"/>
<text id="y0" transform="translate(390.00,1763.55) scale(0.9570,1.0000)" font-size="78" fill="#4D4D4D" text-anchor="end">0%</text>
<text id="y25" transform="translate(390.00,1377.55) scale(0.9580,1.0000)" font-size="78" fill="#4D4D4D" text-anchor="end">25%</text>
<text id="y50" transform="translate(390.00,991.55) scale(0.9680,1.0000)" font-size="78" fill="#4D4D4D" text-anchor="end">50%</text>
<text id="y75" transform="translate(390.00,605.55) scale(0.9580,1.0000)" font-size="78" fill="#4D4D4D" text-anchor="end">75%</text>
<text id="y100" transform="translate(390.00,219.55) scale(0.9610,1.0000)" font-size="78" fill="#4D4D4D" text-anchor="end">100%</text>
<text id="x-4" transform="translate(447.40,1877.30) scale(1.0700,1.0500)" font-size="57" fill="#4D4D4D" text-anchor="middle">-4</text>
<text id="x-2" transform="translate(1133.10,1877.30) scale(1.0700,1.0500)" font-size="57" fill="#4D4D4D" text-anchor="middle">-2</text>
<text id="x0" transform="translate(1818.80,1877.30) scale(1.0800,1.0500)" font-size="57" fill="#4D4D4D" text-anchor="middle">0</text>
<text id="x2" transform="translate(2504.50,1877.30) scale(1.1200,1.0500)" font-size="57" fill="#4D4D4D" text-anchor="middle">2</text>
<text id="x4" transform="translate(3190.20,1877.30) scale(1.0800,1.0500)" font-size="57" fill="#4D4D4D" text-anchor="middle">4</text>
<text id="xt" transform="translate(1947.00,1968.20) scale(1.0385,1.0000)" font-size="95.5" fill="#1C1B17" text-anchor="middle">Users' Ideology Score</text>
<text id="yt" transform="translate(180.30,967.50) rotate(-90) scale(1.0502,1.0000)" font-size="95.5" fill="#1C1B17" text-anchor="middle">Cumulative Share of Active Users</text>
<line x1="1216.0" x2="1310.5" y1="2199.4" y2="2199.4" stroke="#C8300F" stroke-width="4.45"/>
<line x1="1768.5" x2="1863.0" y1="2199.4" y2="2199.4" stroke="#8A9BA3" stroke-width="4.45"/>
<line x1="2206.0" x2="2300.5" y1="2199.4" y2="2199.4" stroke="#0000FF" stroke-width="4.45"/>
<text id="l1a" transform="translate(1345.00,2187.50) scale(1.1210,1.0300)" font-size="58" fill="#1C1B17" text-anchor="start">Users</text>
<text id="l1b" transform="translate(1361.00,2250.50) scale(1.0600,1.0600)" font-size="58" fill="#1C1B17" text-anchor="start">Before the Ban</text>
<text id="l2a" transform="translate(1897.00,2187.50) scale(1.1330,1.0300)" font-size="58" fill="#1C1B17" text-anchor="start">Dropout</text>
<text id="l2b" transform="translate(1912.00,2250.50) scale(1.0870,1.0600)" font-size="58" fill="#1C1B17" text-anchor="start">in the Ban</text>
<text id="l3a" transform="translate(2335.00,2187.50) scale(1.1330,1.0300)" font-size="58" fill="#1C1B17" text-anchor="start">Dropout</text>
<text id="l3b" transform="translate(2347.50,2250.50) scale(1.0860,1.0600)" font-size="58" fill="#1C1B17" text-anchor="start">After the Ban</text>
</svg></body></html>
